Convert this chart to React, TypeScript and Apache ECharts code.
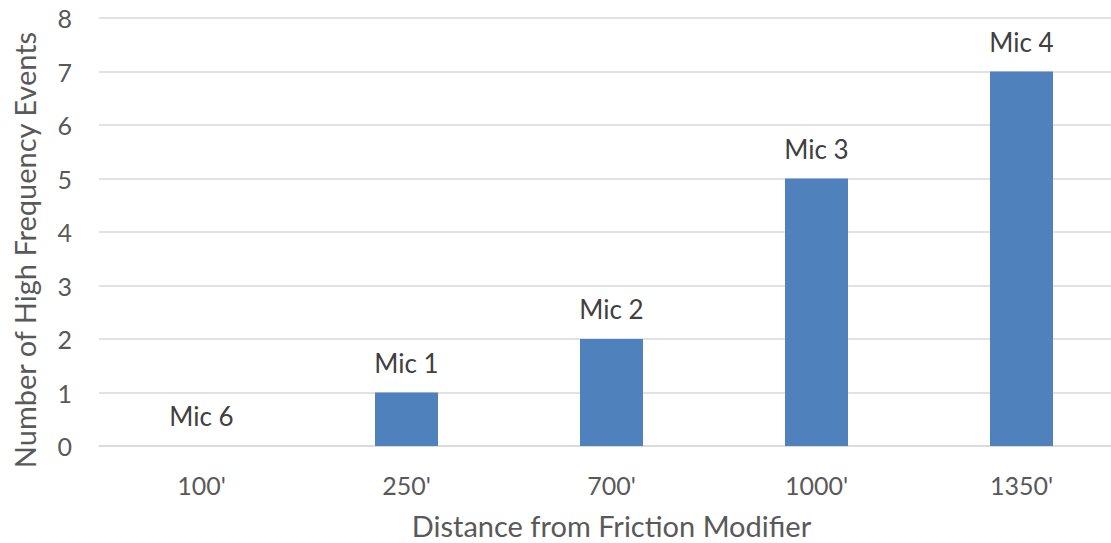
import React, { useEffect, useRef } from "react";
import * as echarts from "echarts";

const categories = ["100'", "250'", "700'", "1000'", "1350'"];
const events = [0, 1, 2, 5, 7];
const micLabels = ["Mic 6", "Mic 1", "Mic 2", "Mic 3", "Mic 4"];
const yTicks = [0, 1, 2, 3, 4, 5, 6, 7, 8];

const FONT = "Lato, 'Open Sans', sans-serif";

export default function App() {
  const ref = useRef<HTMLDivElement>(null);

  useEffect(() => {
    if (!ref.current) return;
    const chart = echarts.init(ref.current, null, { renderer: "svg" });
    chart.setOption({
      animation: false,
      backgroundColor: "#ffffff",
      textStyle: { fontFamily: FONT },
      grid: {
        left: 99,
        right: -13,
        top: 18,
        bottom: 97,
        containLabel: false,
        outerBoundsMode: "none",
      },
      xAxis: {
        type: "category",
        data: categories,
        name: "Distance from Friction Modifier",
        nameLocation: "middle",
        nameGap: 65,
        nameTextStyle: { fontSize: 29, lineHeight: 28, color: "#595959", fontFamily: FONT },
        axisLine: { show: true, lineStyle: { color: "#D9D9D9", width: 1.5 } },
        axisTick: { show: false },
        axisLabel: { fontSize: 25, color: "#595959", margin: 26, fontFamily: FONT },
      },
      yAxis: {
        type: "value",
        min: yTicks[0],
        max: yTicks[yTicks.length - 1],
        interval: 1,
        name: "Number of High Frequency Events",
        nameLocation: "middle",
        nameGap: 60,
        nameTextStyle: {
          fontSize: 29,
          color: "#595959",
          fontFamily: FONT,
          padding: [0, 36, 0, 0],
        },
        axisLine: { show: false },
        axisTick: { show: false },
        splitLine: { lineStyle: { color: "#D9D9D9", width: 1.5 } },
        axisLabel: { fontSize: 25, color: "#595959", margin: 27, fontFamily: FONT },
      },
      series: [
        {
          type: "bar",
          data: events,
          barWidth: 63,
          itemStyle: { color: "#4F81BD" },
          label: {
            show: true,
            position: "top",
            distance: 17,
            fontSize: 26,
            color: "#404040",
            fontFamily: FONT,
            formatter: (p: any) => micLabels[p.dataIndex],
          },
        },
      ],
    });
    return () => chart.dispose();
  }, []);

  return <div ref={ref} style={{ width: 1111, height: 543, position: "absolute", left: 0, top: 0 }} />;
}
